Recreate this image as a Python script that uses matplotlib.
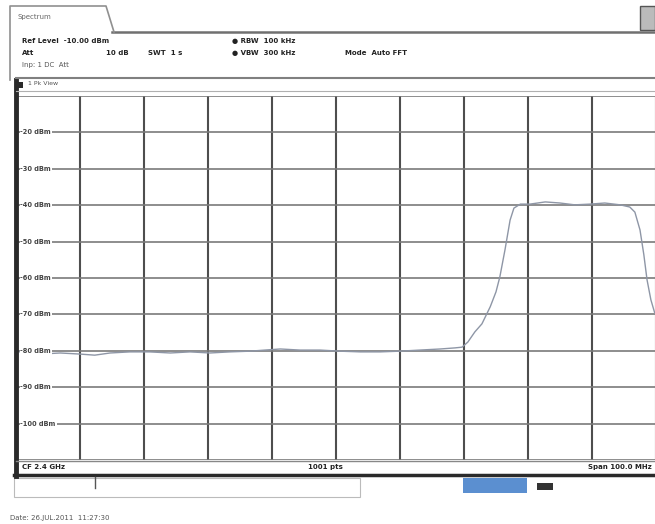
import matplotlib
matplotlib.use("Agg")
import matplotlib.pyplot as plt
from matplotlib.patches import Rectangle
from matplotlib.lines import Line2D

# ── Data ───────────────────────────────────────────────────────────────────
center_mhz = 2400.0
span_mhz = 100.0
ref_level = -10.0
db_per_div = 10.0

freq_mhz = [2350.6, 2353.8, 2356.9, 2360.0, 2362.3, 2364.7, 2367.8, 2370.9,
            2374.1, 2377.2, 2380.3, 2383.4, 2386.6, 2388.9, 2391.3, 2394.4,
            2397.5, 2400.6, 2403.8, 2406.9, 2410.0, 2413.1, 2416.3, 2418.6,
            2419.7, 2420.6, 2421.7, 2422.8, 2424.1, 2425.0, 2425.6, 2426.4,
            2427.2, 2427.8, 2428.8, 2430.3, 2432.7, 2435.0, 2437.3, 2439.7,
            2442.0, 2444.4, 2445.9, 2446.7, 2447.5, 2448.1, 2448.6, 2449.2,
            2449.8]
level_dbm = [-80.3, -80.9, -80.6, -80.9, -81.2, -80.6, -80.3, -80.3,
             -80.6, -80.3, -80.6, -80.3, -80.1, -79.8, -79.5, -79.8,
             -79.8, -80.1, -80.3, -80.3, -80.1, -79.8, -79.5, -79.2,
             -79.0, -77.6, -74.8, -72.6, -67.9, -63.8, -59.7, -52.3,
             -44.1, -40.8, -39.7, -39.7, -39.1, -39.4, -39.9, -39.7,
             -39.4, -39.9, -40.5, -41.9, -46.8, -53.6, -60.5, -66.0,
             -69.6]

y_labels = ["-20 dBm", "-30 dBm", "-40 dBm", "-50 dBm", "-60 dBm",
            "-70 dBm", "-80 dBm", "-90 dBm", "-100 dBm"]

W, H = 655, 524


def fx(x):
    return x / W


def fy(y):
    return 1 - y / H


# ── Figure ─────────────────────────────────────────────────────────────────
fig = plt.figure(figsize=(W / 100, H / 100), dpi=100)
fig.patch.set_facecolor("white")

# plot area: 10 x 10 divisions, left edge 16 px, 64 px per div
left, top, bottom = 16, 96, 460
ax = fig.add_axes([fx(left), fy(bottom), 640 / W, (bottom - top) / H])
ax.set_xlim(center_mhz - span_mhz / 2, center_mhz + span_mhz / 2)
ax.set_ylim(ref_level - 10 * db_per_div, ref_level)
ax.set_xticks([center_mhz - span_mhz / 2 + i * span_mhz / 10 for i in range(11)])
ax.set_yticks([ref_level - i * db_per_div for i in range(11)])
ax.grid(True, axis="x", color="#4e4e4e", linewidth=1.5)
ax.grid(True, axis="y", color="#7a7a7a", linewidth=1.2)
ax.tick_params(length=0, labelbottom=False, labelleft=False)
for s in ax.spines.values():
    s.set_visible(False)
ax.plot(freq_mhz, level_dbm, color="#8e96a6", linewidth=1.0, zorder=3)

# level labels inside the first division
for i, lab in enumerate(y_labels):
    lvl = ref_level - (i + 1) * db_per_div
    ax.text(2350.7, lvl, lab, fontsize=4.8, color="#444444", va="center",
            ha="left", zorder=4, fontweight="bold",
            bbox=dict(facecolor="white", edgecolor="none", pad=0.6))

# ── Frame / header ─────────────────────────────────────────────────────────
dark = "#2a2a2a"
fig.add_artist(Line2D([fx(16), fx(16)], [fy(80), fy(476)], color=dark, lw=3.5))
fig.add_artist(Line2D([fx(112), fx(655)], [fy(32), fy(32)], color="#707070", lw=1.8))
fig.add_artist(Line2D([fx(16), fx(655)], [fy(78), fy(78)], color="#808080", lw=1.5))
fig.add_artist(Line2D([fx(16), fx(655)], [fy(91), fy(91)], color="#b0b0b0", lw=0.8))
# tab
fig.add_artist(Line2D([fx(10), fx(10), fx(106), fx(114)],
                      [fy(80), fy(6), fy(6), fy(32)], color="#909090", lw=1.2))
fig.text(fx(18), fy(17), "Spectrum", fontsize=5, color="#666666", va="center")
# right corner icon
fig.add_artist(Rectangle((fx(640), fy(30)), 15 / W, 24 / H, facecolor="#bbbbbb",
                         edgecolor="#555555", lw=1.0))

hdr = dict(fontsize=5, color="#222222", va="center", fontweight="bold")
fig.text(fx(22), fy(41), "Ref Level  -10.00 dBm", **hdr)
fig.text(fx(22), fy(53), "Att", **hdr)
fig.text(fx(106), fy(53), "10 dB", **hdr)
fig.text(fx(148), fy(53), "SWT  1 s", **hdr)
fig.text(fx(232), fy(41), "\u25cf RBW  100 kHz", **hdr)
fig.text(fx(232), fy(53), "\u25cf VBW  300 kHz", **hdr)
fig.text(fx(345), fy(53), "Mode  Auto FFT", **hdr)
fig.text(fx(22), fy(65), "Inp: 1 DC  Att", fontsize=5, color="#555555", va="center")
fig.add_artist(Rectangle((fx(18), fy(88)), 5 / W, 6 / H, facecolor=dark, edgecolor="none"))
fig.text(fx(28), fy(84), "1 Pk View", fontsize=4.5, color="#555555", va="center")

# ── Status bar ─────────────────────────────────────────────────────────────
fig.add_artist(Line2D([fx(16), fx(655)], [fy(461), fy(461)], color="#888888", lw=1.0))
sb = dict(fontsize=5, color="#222222", va="center", fontweight="bold")
fig.text(fx(22), fy(467), "CF 2.4 GHz", **sb)
fig.text(fx(325), fy(467), "1001 pts", ha="center", **sb)
fig.text(fx(652), fy(467), "Span 100.0 MHz", ha="right", **sb)
fig.add_artist(Line2D([fx(14), fx(655)], [fy(475), fy(475)], color=dark, lw=2.5))

# lower control strip
fig.add_artist(Rectangle((fx(14), fy(497)), 346 / W, 19 / H, facecolor="white",
                         edgecolor="#bbbbbb", lw=0.8))
fig.add_artist(Line2D([fx(95), fx(95)], [fy(477), fy(488)], color="#555555", lw=1.0))
fig.add_artist(Rectangle((fx(463), fy(493)), 64 / W, 15 / H, facecolor="#5b8fd0",
                         edgecolor="none"))
fig.add_artist(Rectangle((fx(537), fy(490)), 16 / W, 7 / H, facecolor="#333333",
                         edgecolor="none"))

fig.text(fx(10), fy(518), "Date: 26.JUL.2011  11:27:30", fontsize=5,
         color="#555555", va="center")

fig.savefig("out.png", dpi=100)
